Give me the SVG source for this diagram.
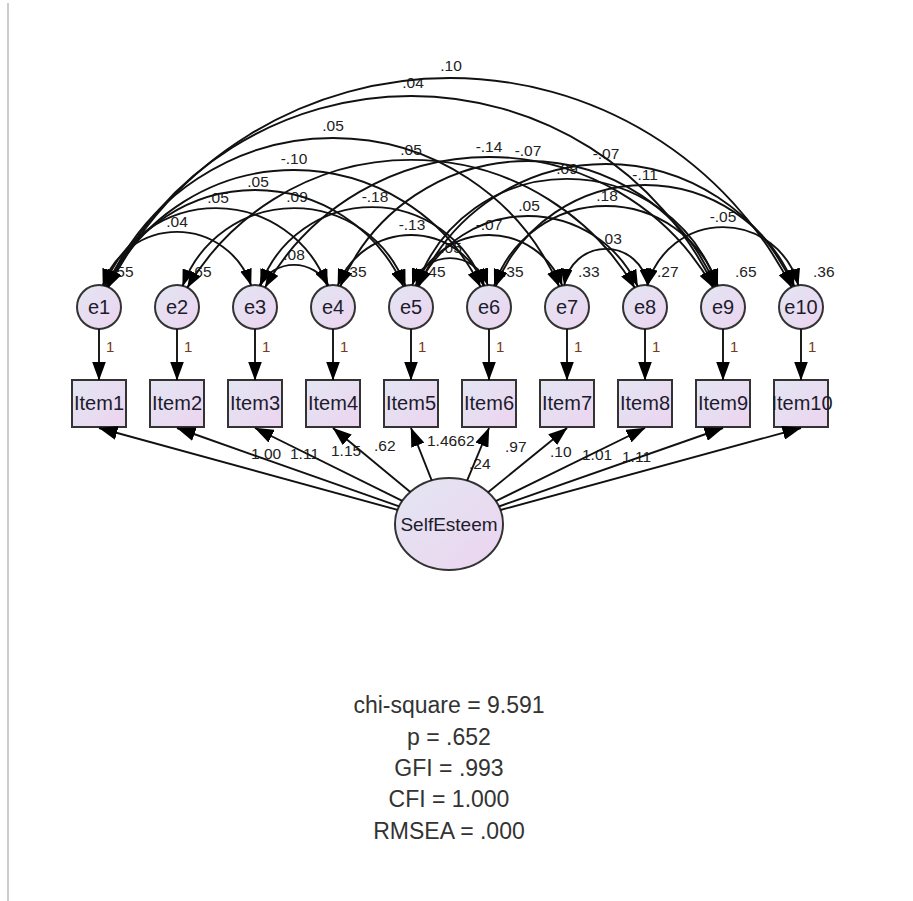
<svg xmlns="http://www.w3.org/2000/svg" width="913" height="901" viewBox="0 0 913 901">
<defs>
<linearGradient id="g" x1="0" y1="0" x2="1" y2="1">
<stop offset="0" stop-color="#e3e6f3"/>
<stop offset="1" stop-color="#ecd4ef"/>
</linearGradient>
<marker id="ah" markerUnits="userSpaceOnUse" viewBox="0 0 17 12" markerWidth="17" markerHeight="12" refX="16.5" refY="6" orient="auto-start-reverse">
<path d="M0,0 L17,6 L0,12 z" fill="#000"/>
</marker>
<marker id="ah2" markerUnits="userSpaceOnUse" viewBox="0 0 19 14" markerWidth="19" markerHeight="14" refX="18.5" refY="7" orient="auto">
<path d="M0,0 L19,7 L0,14 z" fill="#000"/>
</marker>
<style>
.n{fill:url(#g);stroke:#333;stroke-width:2}
.t{font-family:"Liberation Sans",Arial,sans-serif;font-size:20px;fill:#1c1c2c;text-anchor:middle}
.se{font-size:19px}
.c{fill:none;stroke:#111;stroke-width:1.9;marker-start:url(#ah);marker-end:url(#ah)}
.r{fill:none;stroke:#111;stroke-width:1.9;marker-end:url(#ah2)}
.l{font-family:"Liberation Sans",Arial,sans-serif;font-size:15.5px;fill:#222}
.m{text-anchor:middle}
.one{font-family:"Liberation Sans",Arial,sans-serif;font-size:15px;fill:#7b3a12}
.s{font-family:"Liberation Sans",Arial,sans-serif;font-size:23px;fill:#333;text-anchor:middle}
</style>
</defs>
<rect width="913" height="901" fill="#fff"/>
<line x1="8" y1="3" x2="8" y2="901" stroke="#bbb" stroke-width="1.5"/>

<g id="e1"><circle class="n" cx="99" cy="307" r="22"/><text class="t" x="99" y="314">e1</text><text class="l" x="112" y="277">.55</text></g>
<g id="e2"><circle class="n" cx="177" cy="307" r="22"/><text class="t" x="177" y="314">e2</text><text class="l" x="190" y="277">.65</text></g>
<g id="e3"><circle class="n" cx="255" cy="307" r="22"/><text class="t" x="255" y="314">e3</text></g>
<g id="e4"><circle class="n" cx="333" cy="307" r="22"/><text class="t" x="333" y="314">e4</text><text class="l" x="345" y="277">.35</text></g>
<g id="e5"><circle class="n" cx="411" cy="307" r="22"/><text class="t" x="411" y="314">e5</text><text class="l" x="424" y="277">.45</text></g>
<g id="e6"><circle class="n" cx="489" cy="307" r="22"/><text class="t" x="489" y="314">e6</text><text class="l" x="502" y="277">.35</text></g>
<g id="e7"><circle class="n" cx="567" cy="307" r="22"/><text class="t" x="567" y="314">e7</text><text class="l" x="578" y="277">.33</text></g>
<g id="e8"><circle class="n" cx="645" cy="307" r="22"/><text class="t" x="645" y="314">e8</text><text class="l" x="657" y="277">.27</text></g>
<g id="e9"><circle class="n" cx="723" cy="307" r="22"/><text class="t" x="723" y="314">e9</text><text class="l" x="735" y="277">.65</text></g>
<g id="e10"><circle class="n" cx="801" cy="307" r="22"/><text class="t" x="801" y="314">e10</text><text class="l" x="813" y="277">.36</text></g>

<g id="item1"><rect class="n" x="72" y="380" width="54" height="47"/><text class="t" x="99" y="410">Item1</text></g>
<g id="item2"><rect class="n" x="150" y="380" width="54" height="47"/><text class="t" x="177" y="410">Item2</text></g>
<g id="item3"><rect class="n" x="228" y="380" width="54" height="47"/><text class="t" x="255" y="410">Item3</text></g>
<g id="item4"><rect class="n" x="306" y="380" width="54" height="47"/><text class="t" x="333" y="410">Item4</text></g>
<g id="item5"><rect class="n" x="384" y="380" width="54" height="47"/><text class="t" x="411" y="410">Item5</text></g>
<g id="item6"><rect class="n" x="462" y="380" width="54" height="47"/><text class="t" x="489" y="410">Item6</text></g>
<g id="item7"><rect class="n" x="540" y="380" width="54" height="47"/><text class="t" x="567" y="410">Item7</text></g>
<g id="item8"><rect class="n" x="618" y="380" width="54" height="47"/><text class="t" x="645" y="410">Item8</text></g>
<g id="item9"><rect class="n" x="696" y="380" width="54" height="47"/><text class="t" x="723" y="410">Item9</text></g>
<g id="item10"><rect class="n" x="774" y="380" width="54" height="47"/><text class="t" x="802" y="410">Item10</text></g>

<g id="SelfEsteem"><ellipse class="n" cx="449" cy="524" rx="54" ry="46"/><text class="t se" x="449" y="531">SelfEsteem</text></g>

<g id="labels">
<text class="l m" x="451" y="71">.10</text>
<text class="l m" x="413" y="88">.04</text>
<text class="l m" x="333" y="131">.05</text>
<text class="l m" x="294" y="164">-.10</text>
<text class="l m" x="258" y="187">.05</text>
<text class="l m" x="218" y="203">.05</text>
<text class="l m" x="177" y="227">.04</text>
<text class="l m" x="297" y="202">.09</text>
<text class="l m" x="411" y="155">.05</text>
<text class="l m" x="294" y="260">.08</text>
<text class="l m" x="375" y="202">-.18</text>
<text class="l m" x="489" y="152">-.14</text>
<text class="l m" x="412" y="230">-.13</text>
<text class="l m" x="528" y="156">-.07</text>
<text class="l m" x="451" y="253">.05</text>
<text class="l m" x="489" y="230">-.07</text>
<text class="l m" x="529" y="211">.05</text>
<text class="l m" x="567" y="174">.09</text>
<text class="l m" x="606" y="159">-.07</text>
<text class="l m" x="607" y="201">.18</text>
<text class="l m" x="645" y="180">-.11</text>
<text class="l m" x="611" y="244">.03</text>
<text class="l m" x="723" y="222">-.05</text>
<text class="one" x="106" y="352">1</text>
<text class="one" x="184" y="352">1</text>
<text class="one" x="262" y="352">1</text>
<text class="one" x="340" y="352">1</text>
<text class="one" x="418" y="352">1</text>
<text class="one" x="496" y="352">1</text>
<text class="one" x="574" y="352">1</text>
<text class="one" x="652" y="352">1</text>
<text class="one" x="730" y="352">1</text>
<text class="one" x="808" y="352">1</text>
<text class="l" x="251" y="459">1.00</text>
<text class="l" x="290" y="459">1.11</text>
<text class="l" x="331" y="456">1.15</text>
<text class="l" x="374" y="451">.62</text>
<text class="l" x="427" y="446">1.46</text>
<text class="l" x="453" y="446">.62</text>
<text class="l" x="469" y="469">.24</text>
<text class="l" x="505" y="452">.97</text>
<text class="l" x="550" y="457">.10</text>
<text class="l" x="582" y="460">1.01</text>
<text class="l" x="622" y="462">1.11</text>
</g>

<g id="connectors">
<path class="c" d="M108.4,287.2 A383.5,383.5 0 0 1 791.6,287.2"/>
<path class="c" d="M107.9,286.7 A336.2,336.2 0 0 1 714.1,286.7"/>
<path class="c" d="M106.8,286.6 A246.5,246.5 0 0 1 559.2,286.6"/>
<path class="c" d="M107.5,286.8 A207.3,207.3 0 0 1 480.5,286.8"/>
<path class="c" d="M106.6,286.3 A162.5,162.5 0 0 1 403.4,286.3"/>
<path class="c" d="M104.6,286 A118.6,118.6 0 0 1 327.4,286"/>
<path class="c" d="M102.9,285.4 A78.06,78.06 0 0 1 251.1,285.4"/>
<path class="c" d="M182.6,286 A118.6,118.6 0 0 1 405.4,286"/>
<path class="c" d="M187.3,287.7 A259.7,259.7 0 0 1 634.7,287.7"/>
<path class="c" d="M259.6,285.4 A39.1,39.1 0 0 1 328.4,285.4"/>
<path class="c" d="M260.5,285.7 A118.4,118.4 0 0 1 483.5,285.7"/>
<path class="c" d="M265.1,287.3 A257.5,257.5 0 0 1 712.9,287.3"/>
<path class="c" d="M337.8,285.6 A78.25,78.25 0 0 1 484.2,285.6"/>
<path class="c" d="M340.3,286.3 A203.2,203.2 0 0 1 715.7,286.3"/>
<path class="c" d="M412.2,285 A40,40 0 0 1 487.8,285"/>
<path class="c" d="M415.8,285.6 A78.25,78.25 0 0 1 562.2,285.6"/>
<path class="c" d="M418.3,286.3 A120.7,120.7 0 0 1 637.7,286.3"/>
<path class="c" d="M416.7,285.8 A159.1,159.1 0 0 1 717.3,285.8"/>
<path class="c" d="M418.7,286.4 A204.5,204.5 0 0 1 793.3,286.4"/>
<path class="c" d="M494.2,285.6 A118.3,118.3 0 0 1 717.8,285.6"/>
<path class="c" d="M495.8,286 A160.7,160.7 0 0 1 794.2,286"/>
<path class="c" d="M564.3,285.2 A42.1,42.1 0 0 1 647.7,285.2"/>
<path class="c" d="M647.6,285.2 A78,78 0 0 1 798.4,285.2"/>

<path class="r" d="M99,329 L99,380"/>
<path class="r" d="M177,329 L177,380"/>
<path class="r" d="M255,329 L255,380"/>
<path class="r" d="M333,329 L333,380"/>
<path class="r" d="M411,329 L411,380"/>
<path class="r" d="M489,329 L489,380"/>
<path class="r" d="M567,329 L567,380"/>
<path class="r" d="M645,329 L645,380"/>
<path class="r" d="M723,329 L723,380"/>
<path class="r" d="M801,329 L801,380"/>

<path class="r" d="M397.6,509.9 L99,428"/>
<path class="r" d="M399.1,506.4 L177,428"/>
<path class="r" d="M402.3,500.9 L255,428"/>
<path class="r" d="M410.3,491.9 L333,428"/>
<path class="r" d="M431.7,480.4 L411,428"/>
<path class="r" d="M467.1,480.6 L489,428"/>
<path class="r" d="M488.1,492.2 L567,428"/>
<path class="r" d="M495.8,501.1 L645,428"/>
<path class="r" d="M498.9,506.5 L723,428"/>
<path class="r" d="M500.4,510 L801,428"/>
</g>

<g id="fit">
<text class="s" x="449" y="713">chi-square = 9.591</text>
<text class="s" x="449" y="745">p = .652</text>
<text class="s" x="449" y="776">GFI = .993</text>
<text class="s" x="449" y="807">CFI = 1.000</text>
<text class="s" x="449" y="839">RMSEA = .000</text>
</g>
</svg>
